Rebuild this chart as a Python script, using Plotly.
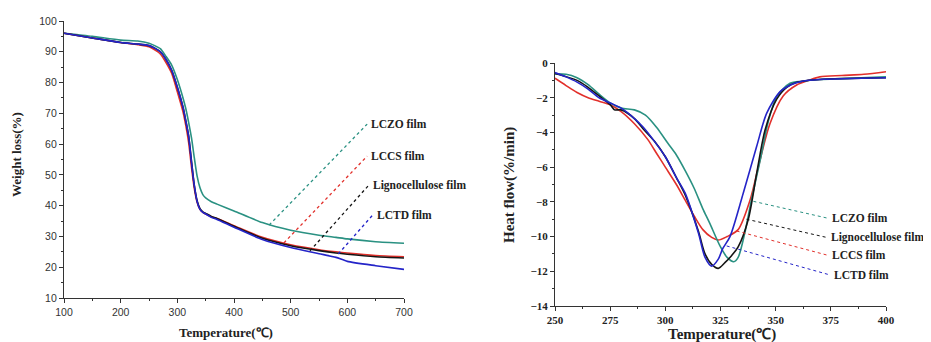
import plotly.graph_objects as go

# ---------------- TGA data (left) ----------------
tga_T = [100, 150, 200, 230, 250, 260, 270, 280, 290, 300, 310, 315, 320, 325, 330, 335, 340, 345, 350, 360, 370, 400, 450, 500, 550, 580, 600, 650, 700]
tga_lczo = [96, 95, 93.8, 93.5, 92.8, 92, 91, 88.5, 85.7, 81, 75, 71.5, 67, 62, 55.5, 49.5, 45.8, 43.6, 42.5, 41.3, 40.5, 38.3, 34.5, 32, 30.4, 29.7, 29.2, 28.3, 27.8]
tga_lccs = [96, 94.5, 93, 92.3, 91.6, 90.6, 89.3, 86.5, 83, 77, 70.5, 66, 60.5, 52.5, 45.5, 41, 38.8, 37.8, 37.3, 36.4, 35.8, 33.5, 29.7, 27.3, 25.7, 25, 24.6, 23.8, 23.4]
tga_ligno = [96, 94.5, 93, 92.5, 92, 91.2, 90, 87.5, 84, 78.5, 72, 67.5, 62.5, 54.5, 46.5, 41.5, 39, 38, 37.5, 36.5, 35.8, 33.3, 29.4, 27, 25.4, 24.6, 24.2, 23.4, 23.0]
tga_lctd = [96, 94.5, 93, 92.5, 92, 91.2, 90, 87.5, 84, 78.5, 72, 67.5, 62.5, 54, 46.5, 41.3, 38.8, 37.8, 37.3, 36.2, 35.5, 33, 29, 26.4, 24.4, 23.2, 21.9, 20.5, 19.3]

# ---------------- DTG data (right) ----------------
dtg_lczo_T = [250, 255, 260, 265, 270, 275, 280, 286, 291, 296, 301, 305, 309, 313, 317, 320, 325, 328, 331, 333, 336, 339, 343, 346.6, 350.4, 356.5, 362, 370, 380, 400]
dtg_lczo = [-0.63, -0.65, -0.85, -1.25, -1.8, -2.3, -2.6, -2.7, -3.0, -3.7, -4.6, -5.3, -6.2, -7.2, -8.4, -9.2, -10.6, -11.2, -11.45, -11.2, -9.8, -7.9, -5.6, -3.4, -1.95, -1.17, -1.05, -0.95, -0.9, -0.8]
dtg_lccs_T = [250, 255, 260, 265, 270, 275, 280, 286, 292, 296, 300, 305, 309, 313, 317, 321, 324, 328, 333, 338.4, 342.9, 347.4, 353.4, 359.5, 365, 370, 380, 390, 400]
dtg_lccs = [-0.88, -1.3, -1.7, -2.0, -2.2, -2.4, -2.8, -3.5, -4.4, -5.2, -6.0, -7.0, -7.9, -8.8, -9.6, -10.05, -10.2, -10.0, -9.6, -7.9, -5.6, -3.5, -1.9, -1.27, -1.0, -0.8, -0.72, -0.65, -0.5]
dtg_ligno_T = [250, 260, 265, 270, 275, 277, 280, 286, 290, 295, 300, 305, 309, 315, 318, 321, 324, 327, 330, 333, 337.6, 341.4, 345.2, 350.4, 355, 360, 370, 400]
dtg_ligno = [-0.6, -1.0, -1.4, -1.9, -2.4, -2.7, -2.7, -3.2, -3.8, -4.5, -5.4, -6.6, -7.6, -9.7, -11.0, -11.6, -11.83, -11.5, -11.1, -10.6, -9.0, -6.35, -3.86, -2.1, -1.4, -1.1, -0.95, -0.85]
dtg_lctd_T = [250, 255, 260, 265, 270, 275, 280, 286, 290, 295, 300, 305, 309, 315, 318, 321, 324, 326, 329.3, 335.3, 341.4, 345.9, 352, 357, 362, 370, 400]
dtg_lctd = [-0.55, -0.8, -1.1, -1.5, -2.0, -2.3, -2.6, -3.2, -3.7, -4.5, -5.4, -6.6, -7.5, -9.8, -11.2, -11.7, -11.3, -10.7, -10.0, -7.5, -4.8, -2.9, -1.65, -1.25, -1.05, -0.95, -0.85]

series_names = ["LCZO film", "LCCS film", "Lignocellulose film", "LCTD film"]
colors = {"LCZO film": "#2a9182", "LCCS film": "#e2302b", "Lignocellulose film": "#151515", "LCTD film": "#2424c8"}

# leader lines: (x0, y0, x1, y1)
tga_leaders = {
    "LCZO film": (462, 33.7, 635, 66.5),
    "LCCS film": (488, 27.9, 635, 56.1),
    "Lignocellulose film": (534, 25.3, 638, 46.7),
    "LCTD film": (584, 24.3, 645, 37.0),
}
dtg_leaders = {
    "LCZO film": (339.9, -7.97, 373.2, -8.93),
    "Lignocellulose film": (336.8, -9.0, 372.8, -10.04),
    "LCCS film": (332.3, -9.68, 373.1, -11.06),
    "LCTD film": (327.8, -10.54, 374.3, -12.2),
}

# page is offset by the 8px body margin
W, H, OFF = 923, 334, 8
def px(p):
    return (p - OFF) / W
def py(p):
    return 1 - (p - OFF) / H

fig = go.Figure()

tga_vals = {"LCZO film": tga_lczo, "LCCS film": tga_lccs, "Lignocellulose film": tga_ligno, "LCTD film": tga_lctd}
for name in ["LCZO film", "LCCS film", "Lignocellulose film", "LCTD film"]:
    fig.add_trace(go.Scatter(x=tga_T, y=tga_vals[name], mode="lines", line=dict(color=colors[name], width=1.6, shape="spline", smoothing=0.6),
                             xaxis="x", yaxis="y", showlegend=False))

dtg_sets = {
    "LCZO film": (dtg_lczo_T, dtg_lczo),
    "LCCS film": (dtg_lccs_T, dtg_lccs),
    "Lignocellulose film": (dtg_ligno_T, dtg_ligno),
    "LCTD film": (dtg_lctd_T, dtg_lctd),
}
for name in ["LCCS film", "LCZO film", "Lignocellulose film", "LCTD film"]:
    xs, ys = dtg_sets[name]
    fig.add_trace(go.Scatter(x=xs, y=ys, mode="lines", line=dict(color=colors[name], width=1.6, shape="spline", smoothing=0.8),
                             xaxis="x2", yaxis="y2", showlegend=False))

serif = "Liberation Serif"
for name, (x0, y0, x1, y1) in tga_leaders.items():
    fig.add_trace(go.Scatter(x=[x0, x1], y=[y0, y1], mode="lines", line=dict(color=colors[name], width=1.3, dash="dot"),
                             xaxis="x", yaxis="y", showlegend=False))
    fig.add_annotation(x=x1, y=y1, xref="x", yref="y", text="<b>%s</b>" % name, showarrow=False, xanchor="left", yanchor="middle",
                       xshift=2, font=dict(family=serif, size=11.5, color="#222"))
for name, (x0, y0, x1, y1) in dtg_leaders.items():
    fig.add_trace(go.Scatter(x=[x0, x1], y=[y0, y1], mode="lines", line=dict(color=colors[name], width=1.0, dash="dot"),
                             xaxis="x2", yaxis="y2", showlegend=False))
    fig.add_annotation(x=x1, y=y1, xref="x2", yref="y2", text="<b>%s</b>" % name, showarrow=False, xanchor="left", yanchor="middle",
                       xshift=3, font=dict(family=serif, size=11.5, color="#222"))

axis_common = dict(showline=True, linecolor="#333", linewidth=1.2, ticks="outside", ticklen=4, tickcolor="#333",
                   showgrid=False, zeroline=False, mirror=False, automargin=False)

fig.update_layout(
    template="none",
    width=W, height=H, margin=dict(l=0, r=0, t=0, b=0, pad=0),
    paper_bgcolor="white", plot_bgcolor="white",
    xaxis=dict(domain=[px(64), px(404)], range=[100, 700], tickvals=[100, 200, 300, 400, 500, 600, 700],
               tickfont=dict(family="Liberation Sans", size=10.5, color="#333"), anchor="y",
               minor=dict(dtick=50, ticklen=2, tickcolor="#333", ticks="outside"), **axis_common),
    yaxis=dict(domain=[py(298), py(21)], range=[10, 100], tickvals=list(range(10, 101, 10)),
               tickfont=dict(family="Liberation Sans", size=10.5, color="#333"), anchor="x",
               minor=dict(dtick=5, ticklen=2, tickcolor="#333", ticks="outside"), **axis_common),
    xaxis2=dict(domain=[px(555), px(886)], range=[250, 400], tickvals=[250, 275, 300, 325, 350, 375, 400],
                tickfont=dict(family=serif, size=11, color="#222", weight="bold"), anchor="y2",
                minor=dict(dtick=12.5, ticklen=2, tickcolor="#333", ticks="outside"), **axis_common),
    yaxis2=dict(domain=[py(306), py(63)], range=[-14, 0], tickvals=list(range(-14, 1, 2)),
                tickfont=dict(family=serif, size=11, color="#222", weight="bold"), anchor="x2",
                minor=dict(dtick=1, ticklen=2, tickcolor="#333", ticks="outside"), **axis_common),
)

fig.add_annotation(x=px(16), y=py(155), xref="paper", yref="paper", text="<b>Weight loss(%)</b>", textangle=-90,
                   xanchor="center", yanchor="middle", showarrow=False, font=dict(family=serif, size=13, color="#222"))
fig.add_annotation(x=px(226), y=py(332), xref="paper", yref="paper", text="<b>Temperature(℃)</b>",
                   xanchor="center", yanchor="middle", showarrow=False, font=dict(family=serif, size=13, color="#222"))
fig.add_annotation(x=px(509), y=py(185), xref="paper", yref="paper", text="<b>Heat flow(%/min)</b>", textangle=-90,
                   xanchor="center", yanchor="middle", showarrow=False, font=dict(family=serif, size=15, color="#222"))
fig.add_annotation(x=px(722), y=py(334), xref="paper", yref="paper", text="<b>Temperature(℃)</b>",
                   xanchor="center", yanchor="middle", showarrow=False, font=dict(family=serif, size=15, color="#222"))

fig.write_html("out.html")
